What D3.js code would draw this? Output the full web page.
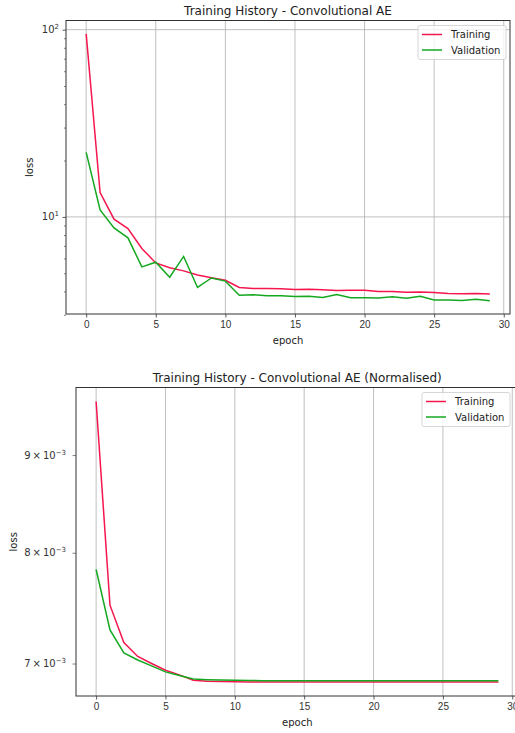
<!DOCTYPE html>
<html>
<head>
<meta charset="utf-8">
<script src="https://cdn.jsdelivr.net/npm/d3@7"></script>
<style>
  body { margin: 0; background: #fff; }
  svg { font-family: "DejaVu Sans", sans-serif; }
  .grid line { stroke: #b0b0b0; stroke-width: 0.8; }
</style>
</head>
<body>
<svg id="chart" width="515" height="733"></svg>
<script>
// epochs 0..29
var epochs = d3.range(0, 30);

// top chart - raw loss
var trainLoss = [95, 13.5, 9.72, 8.67, 6.78, 5.68, 5.35, 5.15, 4.89, 4.73,
                 4.59, 4.20, 4.15, 4.14, 4.13, 4.10, 4.11, 4.08, 4.05, 4.06,
                 4.06, 4.00, 4.00, 3.96, 3.97, 3.95, 3.90, 3.89, 3.90, 3.87];
var valLoss = [22.1, 10.9, 8.74, 7.73, 5.41, 5.73, 4.76, 6.15, 4.20, 4.72,
               4.54, 3.82, 3.84, 3.79, 3.79, 3.76, 3.77, 3.71, 3.85, 3.70,
               3.70, 3.69, 3.74, 3.68, 3.77, 3.60, 3.60, 3.58, 3.63, 3.57];

// bottom chart - normalised loss
var trainNorm = [9.60e-3, 7.51e-3, 7.18e-3, 7.06e-3, 7.00e-3, 6.944e-3, 6.905e-3, 6.86e-3, 6.852e-3, 6.849e-3,
                 6.847e-3, 6.846e-3, 6.846e-3, 6.846e-3, 6.846e-3, 6.846e-3, 6.846e-3, 6.846e-3, 6.846e-3, 6.846e-3,
                 6.846e-3, 6.846e-3, 6.846e-3, 6.846e-3, 6.846e-3, 6.846e-3, 6.846e-3, 6.846e-3, 6.846e-3, 6.846e-3];
var valNorm = [7.84e-3, 7.29e-3, 7.09e-3, 7.03e-3, 6.98e-3, 6.93e-3, 6.90e-3, 6.87e-3, 6.865e-3, 6.862e-3,
               6.86e-3, 6.858e-3, 6.857e-3, 6.857e-3, 6.857e-3, 6.857e-3, 6.857e-3, 6.857e-3, 6.857e-3, 6.857e-3,
               6.857e-3, 6.857e-3, 6.857e-3, 6.857e-3, 6.857e-3, 6.857e-3, 6.857e-3, 6.857e-3, 6.857e-3, 6.857e-3];

var xTicks = [0, 5, 10, 15, 20, 25, 30];
var topMajor = [10, 100];
var topMajorLabels = ["1", "2"];
var topMinor = [3, 4, 5, 6, 7, 8, 9, 20, 30, 40, 50, 60, 70, 80, 90];
var botMinor = [7e-3, 8e-3, 9e-3];
var botMinorLabels = ["7", "8", "9"];
var seriesNames = ["Training", "Validation"];
var colors = ["#f5164e", "#14a820"];

var svg = d3.select("#chart");

// matplotlib-ish 5% margins in (log) data space
function padDomain(lo, hi) {
    var m = (hi - lo) * 0.05;
    return [lo - m, hi + m];
}

function drawPanel(opt) {
    var g = svg.append("g");
    var x = d3.scaleLinear().domain(padDomain(0, 29)).range([opt.left, opt.right]);
    var all = opt.series[0].concat(opt.series[1]);
    var ld = padDomain(Math.log10(d3.min(all)), Math.log10(d3.max(all)));
    var y = d3.scaleLog().domain([Math.pow(10, ld[0]), Math.pow(10, ld[1])]).range([opt.bottom, opt.top]);

    // grid
    var grid = g.append("g").attr("class", "grid");
    grid.selectAll("line.v").data(xTicks).enter().append("line")
        .attr("x1", function (d) { return x(d); }).attr("x2", function (d) { return x(d); })
        .attr("y1", opt.top).attr("y2", opt.bottom);
    grid.selectAll("line.h").data(opt.major).enter().append("line")
        .attr("x1", opt.left).attr("x2", opt.right)
        .attr("y1", function (d) { return y(d); }).attr("y2", function (d) { return y(d); });

    // lines
    opt.series.forEach(function (s, i) {
        var line = d3.line()
            .x(function (d, j) { return x(epochs[j]); })
            .y(function (d) { return y(d); });
        g.append("path").datum(s)
            .attr("d", line)
            .attr("fill", "none")
            .attr("stroke", colors[i])
            .attr("stroke-width", 1.5);
    });

    // x axis
    var xAxis = d3.axisBottom(x).tickValues(xTicks).tickSize(3.5).tickPadding(3.5).tickFormat(d3.format("d"));
    var xa = g.append("g").attr("transform", "translate(0," + opt.bottom + ")").call(xAxis);
    xa.select(".domain").remove();
    xa.selectAll("text").attr("font-size", 10).attr("fill", "#333");
    xa.selectAll("line").attr("stroke", "#333").attr("stroke-width", 0.8);

    // y axis major
    var ya = g.append("g").attr("transform", "translate(" + opt.left + ",0)")
        .call(d3.axisLeft(y).tickValues(opt.major).tickSize(3.5).tickFormat(""));
    ya.select(".domain").remove();
    ya.selectAll("line").attr("stroke", "#333").attr("stroke-width", 0.8);
    var ym = g.append("g").attr("transform", "translate(" + opt.left + ",0)")
        .call(d3.axisLeft(y).tickValues(opt.minor).tickSize(opt.minorLabels ? 3.5 : 2).tickFormat(""));
    ym.select(".domain").remove();
    ym.selectAll("line").attr("stroke", "#333").attr("stroke-width", 0.6);

    // y tick labels
    if (opt.majorLabels) {
        opt.major.forEach(function (v, i) {
            var t = g.append("text").attr("x", opt.left - 7).attr("y", y(v) + 3.5)
                .attr("text-anchor", "end").attr("font-size", 10).attr("fill", "#333");
            t.append("tspan").text("10");
            t.append("tspan").attr("font-size", 7).attr("dy", -4).text(opt.majorLabels[i]);
        });
    }
    if (opt.minorLabels) {
        opt.minor.forEach(function (v, i) {
            var t = g.append("text").attr("x", opt.left - 10).attr("y", y(v) + 3.5)
                .attr("text-anchor", "end").attr("font-size", 10).attr("fill", "#333");
            t.append("tspan").text(opt.minorLabels[i] + "\u2009\u00d7\u200910");
            t.append("tspan").attr("font-size", 7).attr("dy", -4).text("\u22123");
        });
    }

    // frame
    g.append("rect").attr("x", opt.left).attr("y", opt.top)
        .attr("width", opt.right - opt.left).attr("height", opt.bottom - opt.top)
        .attr("fill", "none").attr("stroke", "#333").attr("stroke-width", 1);

    // titles
    var cx = (opt.left + opt.right) / 2;
    g.append("text").attr("x", cx).attr("y", opt.top - 6).attr("text-anchor", "middle")
        .attr("font-size", 12).attr("fill", "#222").text(opt.title);
    g.append("text").attr("x", cx).attr("y", opt.bottom + 30).attr("text-anchor", "middle")
        .attr("font-size", 10).attr("fill", "#222").text("epoch");
    g.append("text").attr("transform", "translate(" + opt.ylabelX + "," + ((opt.top + opt.bottom) / 2) + ") rotate(-90)")
        .attr("text-anchor", "middle").attr("font-size", 10).attr("fill", "#222").text("loss");

    // legend
    var lg = g.append("g").attr("transform", "translate(" + opt.legendX + "," + (opt.top + 5) + ")");
    lg.append("rect").attr("width", 88).attr("height", 34).attr("rx", 2)
        .attr("fill", "#fff").attr("fill-opacity", 0.8).attr("stroke", "#ccc").attr("stroke-width", 0.8);
    seriesNames.forEach(function (n, i) {
        var ly = 9 + i * 15.5;
        lg.append("line").attr("x1", 4).attr("x2", 24).attr("y1", ly).attr("y2", ly)
            .attr("stroke", colors[i]).attr("stroke-width", 1.5);
        lg.append("text").attr("x", 33).attr("y", ly + 3.5).attr("font-size", 10).attr("fill", "#222").text(n);
    });
}

drawPanel({
    left: 66, right: 510, top: 20.5, bottom: 314,
    series: [trainLoss, valLoss],
    major: topMajor, minor: topMinor, majorLabels: topMajorLabels,
    title: "Training History - Convolutional AE",
    ylabelX: 33, legendX: 418
});

drawPanel({
    left: 76, right: 518.5, top: 387.5, bottom: 696,
    series: [trainNorm, valNorm],
    major: [], minor: botMinor, minorLabels: botMinorLabels,
    title: "Training History - Convolutional AE (Normalised)",
    ylabelX: 17, legendX: 422
});
</script>
</body>
</html>
